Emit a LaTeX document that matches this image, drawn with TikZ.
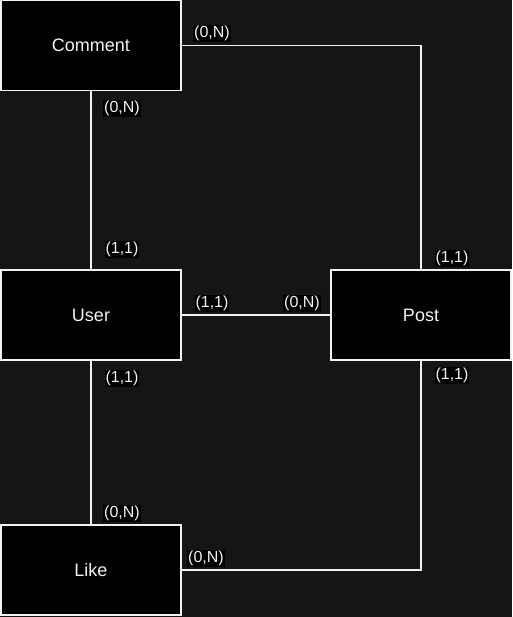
\documentclass[tikz,border=0pt]{standalone}
\usepackage{fontspec}
\setmainfont{Liberation Sans}
\definecolor{bgc}{HTML}{151515}
\definecolor{fgc}{HTML}{F2F2F2}
\tikzset{
  ent/.style={draw=fgc, fill=black, line width=1.2pt, minimum width=180pt, minimum height=90pt, inner sep=0pt, text=fgc, font=\fontsize{18}{20}\selectfont},
  card/.style={fill=black, text=fgc, inner sep=1pt, font=\fontsize{16}{18}\selectfont},
  conn/.style={draw=fgc, line width=1.2pt}
}
\begin{document}
\begin{tikzpicture}[x=1pt,y=-1pt]
\fill[bgc] (0,0) rectangle (512,617);
\useasboundingbox (0,0) rectangle (512,617);
\node[ent] (comment) at (91,45.5) {Comment};
\node[ent] (user) at (91,315) {User};
\node[ent] (post) at (421,315) {Post};
\node[ent] (like) at (91,570) {Like};
\draw[conn] (comment.east) -| (post.north);
\draw[conn] (comment.south) -- (user.north);
\draw[conn] (user.east) -- (post.west);
\draw[conn] (user.south) -- (like.north);
\draw[conn] (post.south) |- (like.east);
\node[card] (l1) at (212,33.5) {(0,N)};
\node[card] (l2) at (452,258.5) {(1,1)};
\node[card] (l3) at (122,108.5) {(0,N)};
\node[card] (l4) at (122,249.5) {(1,1)};
\node[card] (l5) at (212,303.5) {(1,1)};
\node[card] (l6) at (302,303.5) {(0,N)};
\node[card] (l7) at (122,378.5) {(1,1)};
\node[card] (l8) at (122,513.5) {(0,N)};
\node[card] (l9) at (452,375.5) {(1,1)};
\node[card] (l10) at (206,558.5) {(0,N)};
\end{tikzpicture}
\end{document}
